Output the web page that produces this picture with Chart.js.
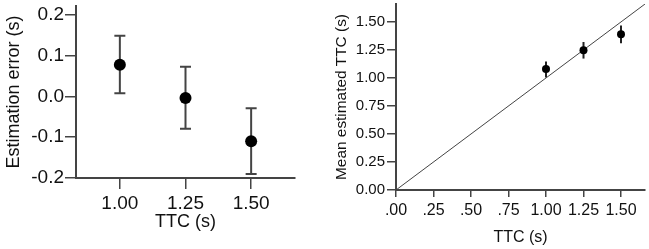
<!DOCTYPE html>
<html>
<head>
<meta charset="utf-8">
<script src="https://cdn.jsdelivr.net/npm/chart.js@4/dist/chart.umd.min.js"></script>
<style>
  html, body { margin: 0; padding: 0; background: #fff; }
  #wrap { position: relative; width: 649px; height: 249px; overflow: hidden; }
  #left { position: absolute; left: 0; top: 0; }
  #right { position: absolute; left: 320px; top: 0; }
</style>
</head>
<body>
<div id="wrap">
  <canvas id="left" width="310" height="249"></canvas>
  <canvas id="right" width="329" height="249"></canvas>
</div>
<script>
// left panel: estimation error per TTC
const ttcLeft = [1.00, 1.25, 1.50];
const errMean = [0.078, -0.004, -0.110];
const errLow = [0.008, -0.079, -0.190];
const errHigh = [0.149, 0.073, -0.029];
const leftXTicks = [1.00, 1.25, 1.50];
const leftXLabels = ["1.00", "1.25", "1.50"];
const leftYTicks = [-0.2, -0.1, 0.0, 0.1, 0.2];
const leftYLabels = ["-0.2", "-0.1", "0.0", "0.1", "0.2"];

// right panel: mean estimated TTC per TTC
const ttcRight = [1.00, 1.25, 1.50];
const estMean = [1.079, 1.247, 1.389];
const estLow = [1.004, 1.173, 1.309];
const estHigh = [1.146, 1.321, 1.469];
const refLine = [0, 1.66];
const rightXTicks = [0, 0.25, 0.5, 0.75, 1.0, 1.25, 1.5];
const rightXLabels = [".00", ".25", ".50", ".75", "1.00", "1.25", "1.50"];
const rightYTicks = [0, 0.25, 0.5, 0.75, 1.0, 1.25, 1.5];
const rightYLabels = ["0.00", "0.25", "0.50", "0.75", "1.00", "1.25", "1.50"];

const FONT = "'Liberation Sans', Arial, sans-serif";
const AXIS = "#444";
const TEXT = "#111";

// error bars drawn under the points, via the chart's scales
function errorBars(low, high, cap, color) {
  return {
    id: "errorBars",
    beforeDatasetsDraw(chart) {
      const ctx = chart.ctx;
      const xs = chart.scales.x, ys = chart.scales.y;
      const pts = chart.data.datasets[0].data;
      ctx.save();
      ctx.strokeStyle = color;
      ctx.lineWidth = 2;
      pts.forEach((p, i) => {
        const x = xs.getPixelForValue(p.x);
        const y1 = ys.getPixelForValue(low[i]);
        const y2 = ys.getPixelForValue(high[i]);
        ctx.beginPath();
        ctx.moveTo(x, y1);
        ctx.lineTo(x, y2);
        if (cap > 0) {
          ctx.moveTo(x - cap / 2, y1);
          ctx.lineTo(x + cap / 2, y1);
          ctx.moveTo(x - cap / 2, y2);
          ctx.lineTo(x + cap / 2, y2);
        }
        ctx.stroke();
      });
      ctx.restore();
    }
  };
}

function axis(opts) {
  return {
    type: "linear",
    min: opts.min,
    max: opts.max,
    afterBuildTicks: s => { s.ticks = opts.ticks.map(v => ({ value: v })); },
    afterFit: s => {
      if (opts.width) s.width = opts.width;
      if (opts.height) s.height = opts.height;
      s.paddingTop = 0; s.paddingBottom = 0; s.paddingLeft = 0; s.paddingRight = 0;
    },
    grid: { display: true, drawOnChartArea: false, drawTicks: true, tickLength: opts.tickLength, color: AXIS, lineWidth: 1.5 },
    border: { display: true, color: AXIS, width: 2 },
    ticks: {
      autoSkip: false,
      maxRotation: 0,
      padding: opts.tickPad,
      color: TEXT,
      font: { family: FONT, size: opts.tickSize },
      callback: (v, i) => opts.labels[i]
    },
    title: {
      display: true,
      text: opts.title,
      color: TEXT,
      font: { family: FONT, size: opts.titleSize },
      padding: opts.titlePad
    }
  };
}

new Chart(document.getElementById("left"), {
  type: "scatter",
  data: {
    datasets: [{
      data: ttcLeft.map((t, i) => ({ x: t, y: errMean[i] })),
      pointRadius: 6,
      pointBackgroundColor: "#000",
      pointBorderColor: "#000",
      pointBorderWidth: 0
    }]
  },
  options: {
    responsive: false,
    animation: false,
    devicePixelRatio: 1,
    layout: { padding: { top: 5, right: 15, left: 0, bottom: 0 } },
    plugins: { legend: { display: false }, tooltip: { enabled: false } },
    scales: {
      x: axis({ min: 0.833, max: 1.667, ticks: leftXTicks, labels: leftXLabels, height: 71,
        tickLength: 11, tickPad: 3, tickSize: 19, title: "TTC (s)", titleSize: 18, titlePad: { top: 0, bottom: 16 } }),
      y: axis({ min: -0.2, max: 0.222, ticks: leftYTicks, labels: leftYLabels, width: 76,
        tickLength: 11, tickPad: 1, tickSize: 19, title: "Estimation error (s)", titleSize: 18, titlePad: { top: 3, bottom: 0 } })
    }
  },
  plugins: [errorBars(errLow, errHigh, 11, "#444")]
});

new Chart(document.getElementById("right"), {
  type: "scatter",
  data: {
    datasets: [{
      data: ttcRight.map((t, i) => ({ x: t, y: estMean[i] })),
      pointRadius: 4,
      pointBackgroundColor: "#000",
      pointBorderColor: "#000",
      pointBorderWidth: 0
    }, {
      data: refLine.map(v => ({ x: v, y: v })),
      showLine: true,
      borderColor: "#444",
      borderWidth: 1,
      pointRadius: 0
    }]
  },
  options: {
    responsive: false,
    animation: false,
    devicePixelRatio: 1,
    layout: { padding: { top: 3, right: 4, left: 0, bottom: 0 } },
    plugins: { legend: { display: false }, tooltip: { enabled: false } },
    scales: {
      x: axis({ min: 0, max: 1.66, ticks: rightXTicks, labels: rightXLabels, height: 59,
        tickLength: 7, tickPad: 4, tickSize: 16, title: "TTC (s)", titleSize: 16, titlePad: { top: 0, bottom: 1.5 } }),
      y: axis({ min: 0, max: 1.66, ticks: rightYTicks, labels: rightYLabels, width: 76,
        tickLength: 9, tickPad: 2, tickSize: 15, title: "Mean estimated TTC (s)", titleSize: 15.4, titlePad: { top: 13, bottom: 0 } })
    }
  },
  plugins: [errorBars(estLow, estHigh, 0, "#222")]
});
</script>
</body>
</html>
